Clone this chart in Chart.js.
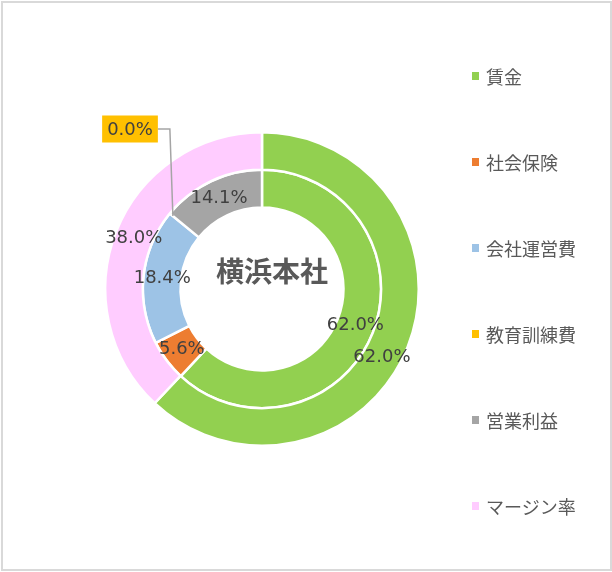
<!DOCTYPE html>
<html>
<head>
<meta charset="utf-8">
<script src="https://cdn.jsdelivr.net/npm/chart.js@4"></script>
<style>
	body { margin: 0; background: #fff; }
	#frame { position: absolute; left: 1px; top: 1px; width: 607px; height: 566px; border: 2px solid #d9d9d9; background: #fff; }
	#wrap { position: absolute; left: 0; top: 0; width: 612px; height: 572px; }
	#legend { position: absolute; left: 471px; top: 63px; font-family: "Noto Sans CJK JP", sans-serif; font-size: 18px; color: #595959; }
	.item { height: 86px; display: flex; align-items: flex-start; line-height: 26px; }
	.item span.box { display: inline-block; width: 7px; height: 8px; margin: 9px 7px 0 1px; }
</style>
</head>
<body>
<div id="frame"></div>
<div id="wrap"><canvas id="chart" width="612" height="572"></canvas></div>
<div id="legend"></div>
<script>
// Data
const labels = ["賃金", "社会保険", "会社運営費", "教育訓練費", "営業利益", "マージン率"];
const colors = ["#92D050", "#ED7D31", "#9DC3E6", "#FFC000", "#A5A5A5", "#FFCCFF"];
const outerValues = [62.0, null, null, null, null, 38.0];
const innerValues = [62.0, 5.6, 18.4, 0.0, 14.1, null];
const centerTitle = "横浜本社";

// legend (html)
const legend = document.getElementById("legend");
labels.forEach((l, i) => {
	let div = document.createElement("div");
	div.className = "item";
	div.innerHTML = '<span class="box" style="background:' + colors[i] + '"></span><span>' + l + "</span>";
	legend.appendChild(div);
});

// percent labels + callout for 0 values
const sliceLabels = {
	id: "sliceLabels",
	afterDatasetsDraw(chart, args, opts) {
		const ctx = chart.ctx;
		ctx.save();
		ctx.font = "18px 'DejaVu Sans', sans-serif";
		ctx.textAlign = "center";
		ctx.textBaseline = "middle";
		chart.data.datasets.forEach((ds, di) => {
			const meta = chart.getDatasetMeta(di);
			meta.data.forEach((arc, i) => {
				const v = ds.data[i];
				if (v === null) return;
				const text = v.toFixed(1) + "%";
				if (v > 0) {
					// middle of the slice, a little turned for the big outer one
					const nudge = ((opts.nudge[di] || [])[i] || 0) * Math.PI / 180;
					const a = (arc.startAngle + arc.endAngle) / 2 + nudge;
					const r = (arc.innerRadius + arc.outerRadius) / 2;
					ctx.fillStyle = "#404040";
					ctx.fillText(text, arc.x + r * Math.cos(a), arc.y + r * Math.sin(a));
					return;
				}
				// callout box
				const a = arc.startAngle;
				const ax = arc.x + (arc.outerRadius - 4) * Math.cos(a);
				const ay = arc.y + (arc.outerRadius - 4) * Math.sin(a);
				const bx = arc.x - 132;
				const by = arc.y - 160;
				const w = ctx.measureText(text).width + 10;
				const h = 27;
				ctx.strokeStyle = "#A5A5A5";
				ctx.lineWidth = 1.5;
				ctx.beginPath();
				ctx.moveTo(ax, ay);
				ctx.lineTo(bx + w / 2 + 12, by);
				ctx.lineTo(bx + w / 2, by);
				ctx.stroke();
				ctx.fillStyle = colors[i];
				ctx.fillRect(bx - w / 2, by - h / 2, w, h);
				ctx.fillStyle = "#404040";
				ctx.fillText(text, bx, by + 1);
			});
		});
		// title in the middle
		const arc0 = chart.getDatasetMeta(0).data[0];
		ctx.font = "bold 28px 'Noto Sans CJK JP', sans-serif";
		ctx.fillStyle = "#595959";
		ctx.fillText(centerTitle, arc0.x + 10, arc0.y - 18);
		ctx.restore();
	},
};

const myChart = new Chart(document.getElementById("chart"), {
	type: "doughnut",
	data: {
		labels: labels,
		datasets: [
			{
				data: outerValues,
				backgroundColor: colors,
				borderColor: "#fff",
				borderWidth: 2.5,
			},
			{
				data: innerValues,
				backgroundColor: colors,
				borderColor: "#fff",
				borderWidth: 2.5,
			},
		],
	},
	options: {
		responsive: false,
		animation: false,
		cutout: "52%",
		layout: {
			padding: { left: 104, right: 192, top: 131, bottom: 125 },
		},
		plugins: {
			legend: { display: false },
			tooltip: { enabled: false },
			sliceLabels: { nudge: [[8, 0, 0, 0, 0, 0], []] },
		},
	},
	plugins: [sliceLabels],
});
</script>
</body>
</html>
